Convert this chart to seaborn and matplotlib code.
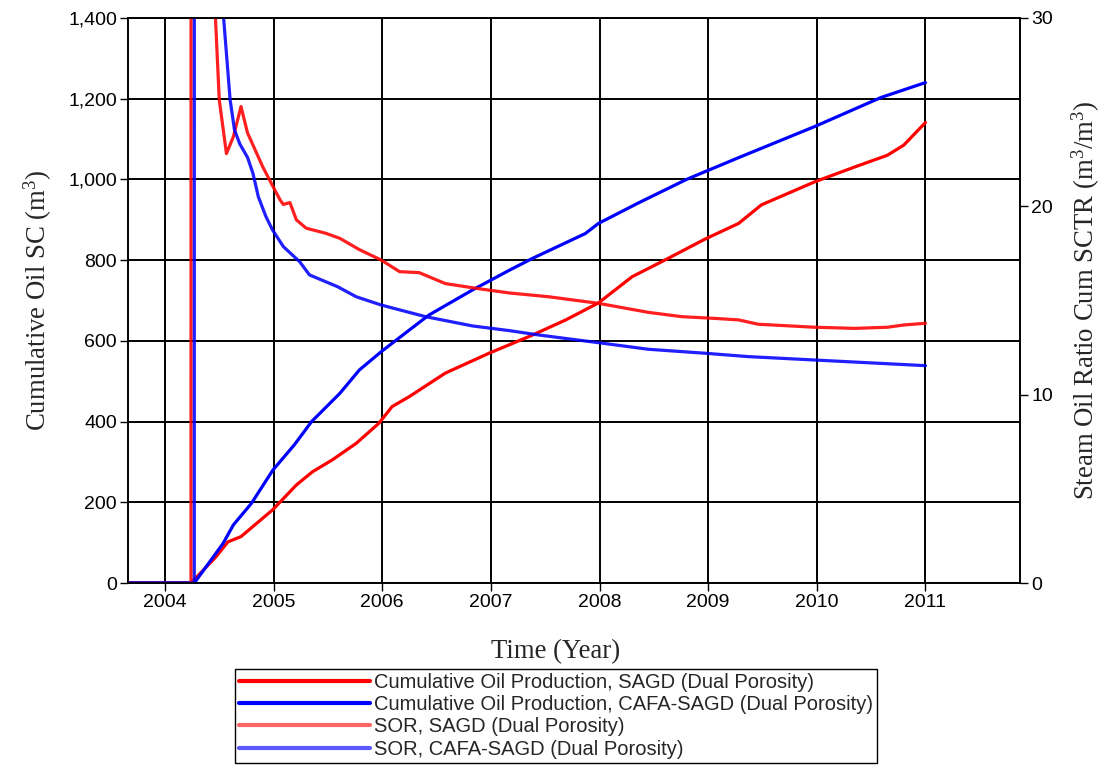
import numpy as np
import pandas as pd
import matplotlib
matplotlib.use("Agg")
import matplotlib.pyplot as plt
from matplotlib.lines import Line2D
from matplotlib.ticker import FuncFormatter, FixedLocator
import seaborn as sns

# ---- data (time in decimal years) ----
t_cum_sagd = [2003.66, 2004.24, 2004.47, 2004.58, 2004.70, 2004.99, 2005.21, 2005.36,
              2005.54, 2005.76, 2005.97, 2006.09, 2006.25, 2006.58, 2006.98, 2007.38,
              2007.69, 2007.99, 2008.30, 2008.60, 2008.97, 2009.28, 2009.49, 2009.98,
              2010.35, 2010.65, 2010.80, 2011.00]
cum_sagd = [0, 0, 65, 102, 115, 181, 243, 276, 305, 346, 396, 437, 462, 520, 569, 614,
            652, 694, 759, 800, 852, 891, 937, 994, 1031, 1060, 1085, 1141]

t_cum_cafa = [2003.66, 2004.27, 2004.535, 2004.63, 2004.795, 2004.994, 2005.19, 2005.35,
              2005.61, 2005.79, 2005.99, 2006.25, 2006.43, 2006.83, 2007.17, 2007.38,
              2007.87, 2007.99, 2008.36, 2008.80, 2009.28, 2009.98, 2010.59, 2011.00]
cum_cafa = [0, 0, 98, 144, 197, 280, 342, 400, 470, 528, 573, 627, 664, 726, 775, 804,
            866, 891, 942, 1000, 1054, 1131, 1203, 1240]

t_sor_sagd = [2003.66, 2004.24, 2004.245, 2004.33, 2004.42, 2004.465, 2004.50, 2004.566,
              2004.63, 2004.70, 2004.76, 2004.90, 2004.99, 2005.06, 2005.09, 2005.15,
              2005.21, 2005.30, 2005.48, 2005.61, 2005.79, 2005.99, 2006.16, 2006.34,
              2006.58, 2006.86, 2007.17, 2007.53, 2007.99, 2008.45, 2008.76, 2009.06,
              2009.28, 2009.46, 2009.98, 2010.35, 2010.65, 2010.80, 2011.00]
sor_sagd = [0, 0, 400, 80, 40, 30, 25.65, 22.8, 23.7, 25.3, 23.9, 22.1, 21.1, 20.34,
            20.1, 20.2, 19.28, 18.84, 18.57, 18.3, 17.7, 17.15, 16.53, 16.48, 15.9,
            15.65, 15.4, 15.2, 14.85, 14.37, 14.14, 14.05, 13.97, 13.74, 13.58, 13.52,
            13.58, 13.7, 13.79]

t_sor_cafa = [2003.66, 2004.27, 2004.275, 2004.38, 2004.48, 2004.54, 2004.60, 2004.64,
              2004.69, 2004.76, 2004.81, 2004.86, 2004.93, 2004.99, 2005.09, 2005.24,
              2005.33, 2005.59, 2005.76, 2005.99, 2006.40, 2006.83, 2007.17, 2007.44,
              2007.99, 2008.45, 2008.97, 2009.37, 2009.98, 2011.00]
sor_cafa = [0, 0, 400, 90, 42, 30, 25.65, 24.06, 23.3, 22.6, 21.75, 20.5, 19.45, 18.75,
            17.86, 17.06, 16.36, 15.73, 15.2, 14.76, 14.14, 13.65, 13.4, 13.17, 12.76,
            12.41, 12.2, 12.02, 11.84, 11.54]

labels = ["Cumulative Oil Production, SAGD (Dual Porosity)",
          "Cumulative Oil Production, CAFA-SAGD (Dual Porosity)",
          "SOR, SAGD (Dual Porosity)",
          "SOR, CAFA-SAGD (Dual Porosity)"]
year_ticks = [2004, 2005, 2006, 2007, 2008, 2009, 2010, 2011]
left_ticks = [0, 200, 400, 600, 800, 1000, 1200, 1400]
right_ticks = [0, 10, 20, 30]

# ---- style ----
sns.set_theme(style="white")
plt.rcParams["font.family"] = ["Liberation Sans", "DejaVu Sans"]
plt.rcParams["mathtext.fontset"] = "custom"
plt.rcParams["mathtext.rm"] = "Liberation Serif"
plt.rcParams["mathtext.it"] = "Liberation Serif"

RED = "#ff0000"
BLUE = "#0000ff"
serif = {"family": "Liberation Serif", "size": 19.3}

W, H = 1104, 766
fig = plt.figure(figsize=(W / 100, H / 100), dpi=100)
ax = fig.add_axes([128 / W, 1 - 583 / H, (1020 - 128) / W, (583 - 18) / H])
ax2 = ax.twinx()

lw = 2.3
sns.lineplot(x=t_cum_sagd, y=cum_sagd, ax=ax, color=RED, lw=lw, estimator=None,
             sort=False, legend=False)
sns.lineplot(x=t_cum_cafa, y=cum_cafa, ax=ax, color=BLUE, lw=lw, estimator=None,
             sort=False, legend=False)
sns.lineplot(x=t_sor_sagd, y=sor_sagd, ax=ax2, color=RED, lw=lw, alpha=0.88,
             estimator=None, sort=False, legend=False)
sns.lineplot(x=t_sor_cafa, y=sor_cafa, ax=ax2, color=BLUE, lw=lw, alpha=0.88,
             estimator=None, sort=False, legend=False)

ax.set_xlim(2003.66, 2011.87)
ax.set_ylim(0, 1400)
ax2.set_ylim(0, 30)

ax.xaxis.set_major_locator(FixedLocator(year_ticks))
ax.yaxis.set_major_locator(FixedLocator(left_ticks))
ax2.yaxis.set_major_locator(FixedLocator(right_ticks))
ax.xaxis.set_major_formatter(FuncFormatter(lambda v, p: f"{int(round(v))}"))
ax.yaxis.set_major_formatter(FuncFormatter(lambda v, p: f"{v:,.0f}"))

ax.grid(True, color="black", lw=1.4)
ax.set_axisbelow(True)
ax2.grid(False)

for a in (ax, ax2):
    a.tick_params(direction="out", length=6, width=1, color="black",
                  labelsize=14, labelcolor="black", pad=2)
    for s in a.spines.values():
        s.set_color("black")
        s.set_linewidth(1.2)
    a.tick_params(axis="x", bottom=True)
ax.tick_params(axis="y", left=True)
ax2.tick_params(axis="y", right=True)

ax.set_xlabel("Time (Year)", fontdict=serif)
ax.xaxis.set_label_coords((556 - 128) / (1020 - 128), (583 - 639) / (583 - 18))
ax.set_ylabel("Cumulative Oil SC (m$^3$)", fontdict=serif, labelpad=10)
ax2.set_ylabel("Steam Oil Ratio Cum SCTR (m$^3$/m$^3$)", fontdict=serif, labelpad=12)

# legend keys: production curves solid, SOR curves in a lighter tone
handles = [
    Line2D([], [], color=RED, lw=3),
    Line2D([], [], color=BLUE, lw=3),
    Line2D([], [], color=RED, lw=3, alpha=0.6),
    Line2D([], [], color=BLUE, lw=3, alpha=0.65),
]
leg = fig.legend(handles, labels, loc="upper left",
                 bbox_to_anchor=(235 / W, 1 - 669 / H), ncol=1,
                 prop={"family": "Liberation Sans", "size": 14.5},
                 frameon=True, fancybox=False, edgecolor="black",
                 handlelength=6.5, handletextpad=0.2, labelspacing=0.16,
                 borderpad=0.2, borderaxespad=0)
leg.get_frame().set_linewidth(1.0)
leg.get_frame().set_alpha(1)

fig.savefig("out.png", dpi=100, facecolor="white")
